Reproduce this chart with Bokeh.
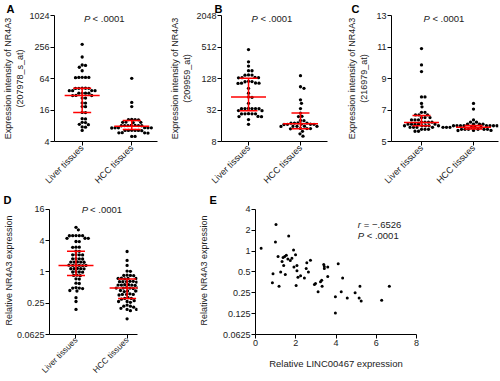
import math
from bokeh.plotting import figure
from bokeh.models import Range1d, FixedTicker, CustomJSTickFormatter, Label, AllLabels
from bokeh.layouts import row, column
from bokeh.embed import file_html
from bokeh.resources import INLINE

FONT = "Liberation Sans"
TXT = "#222222"

categories = ["Liver tissues", "HCC tissues"]

# Panel A (207978_s_at)
a_liver = [288, 165, 116, 114, 105, 90, 67, 67, 66.5, 67.5, 67, 41.6, 41.8, 41.4, 41.6, 41.7, 37.5, 37.4,
           37.6, 37.5, 33.6, 33.5, 33.7, 33.6, 30.3, 30.2, 30.4, 27, 27.1, 21.7, 21.8, 18.6, 18.5, 14.4,
           14.3, 10.8, 10.9, 9.3, 9.2, 8.4, 8.5, 7.6, 7.5, 6.5]
a_hcc = [64.5, 22.3, 18.6, 10.5, 10.5, 10.4, 10.6, 9.3, 9.3, 9.2, 9.4, 8.05, 8.0, 8.1, 8.05, 8.0, 8.1,
         8.05, 7.3, 7.3, 7.25, 7.35, 7.3, 7.3, 6.5, 6.5, 6.45, 6.55, 6.5, 6.5, 5.85, 5.85, 5.8, 5.9, 5.0, 5.0]
a_median = [30.3, 7.8]
a_q1 = [14.4, 6.8]
a_q3 = [41.6, 10.1]
a_yticks = [4, 16, 64, 256, 1024]

# Panel B (209959_at)
b_liver = [458, 267, 221, 180, 181, 149, 150, 148, 133, 134, 132, 133, 112, 111, 113, 104, 105, 103, 104,
           83, 67, 56, 57, 43, 34, 34.2, 33.8, 34.1, 33.9, 34, 31, 31.2, 27, 27.1, 26.9, 27, 27.2, 24,
           24.1, 23.9, 21, 17]
b_hcc = [145, 89, 83, 50, 43, 34, 28, 24, 24.2, 20, 20.2, 18, 18.1, 17.9, 18, 17, 17.1, 16.9, 17, 17.2,
         15.6, 15.7, 15.5, 15.6, 15.6, 14.1, 14.2, 14, 14.1, 12.5, 11.2, 10.1]
b_median = [57, 17.5]
b_q1 = [31, 14]
b_q3 = [129, 28]
b_yticks = [8, 32, 128, 512, 2048]

# Panel C (216979_at)
c_liver = [10.9, 9.86, 9.44, 7.83, 7.83, 7.42, 7.2, 6.85, 6.85, 6.69, 6.69, 6.69, 6.52, 6.52, 6.52,
           6.37, 6.37, 6.37, 6.23, 6.23, 6.23, 6.23, 6.1, 6.1, 6.1, 6.1, 6.1, 6.0, 6.0, 6.0, 6.0, 6.0,
           5.9, 5.9, 5.9, 5.9, 5.77, 5.77, 5.77, 5.65, 5.65]
c_hcc = [7.42, 7.06, 6.37, 6.23, 6.23, 6.1, 6.1, 6.1, 6.1, 6.0, 6.0, 6.0, 6.0, 6.0, 6.0, 6.0, 6.0, 5.9,
         5.9, 5.9, 5.9, 5.9, 5.9, 5.9, 5.9, 5.77, 5.77, 5.77, 5.77, 5.77, 5.77, 5.7, 5.7, 5.7]
c_median = [6.2, 5.9]
c_q1 = [6.0, 5.8]
c_q3 = [6.65, 6.02]
c_yticks = [5, 7, 9, 11, 13]

# Panel D (qPCR)
d_liver = [7.24, 6.5, 5.0, 5.01, 4.99, 5.0, 5.02, 4.46, 4.45, 4.47, 3.86, 3.87, 3.0, 3.01, 2.99, 2.5,
           2.51, 2.14, 2.15, 2.13, 2.14, 1.79, 1.8, 1.78, 1.79, 1.55, 1.56, 1.54, 1.55, 1.55, 1.34, 1.35,
           1.33, 1.34, 1.34, 1.35, 1.16, 1.17, 1.15, 1.16, 1.16, 1.0, 1.01, 0.99, 1.0, 0.86, 0.87, 0.85,
           0.73, 0.74, 0.6, 0.61, 0.49, 0.5, 0.48, 0.49, 0.43, 0.44, 0.32, 0.27, 0.19]
d_hcc = [2.48, 1.67, 1.34, 1.03, 1.04, 0.86, 0.87, 0.85, 0.86, 0.75, 0.76, 0.74, 0.75, 0.75, 0.65, 0.66,
         0.64, 0.65, 0.65, 0.66, 0.56, 0.57, 0.55, 0.56, 0.56, 0.57, 0.49, 0.5, 0.48, 0.49, 0.49, 0.5,
         0.43, 0.44, 0.42, 0.43, 0.43, 0.37, 0.38, 0.36, 0.37, 0.37, 0.31, 0.32, 0.31, 0.3, 0.27, 0.27,
         0.28, 0.26, 0.22, 0.22, 0.23, 0.21, 0.19, 0.19, 0.2, 0.18, 0.125]
d_median = [1.34, 0.49]
d_q1 = [0.86, 0.31]
d_q3 = [2.5, 0.73]
d_yticks = [0.0625, 0.25, 1, 4, 16]

# Panel E (correlation)
e_linc = [0.28, 1.02, 0.99, 1.65, 0.87, 0.84, 1.17, 1.12, 1.25, 1.32, 1.37, 1.45, 1.53, 1.40, 1.48, 1.61,
          1.73, 1.81, 1.89, 1.99, 1.91, 2.06, 2.06, 2.11, 2.02, 2.24, 2.43, 2.55, 2.63, 2.73, 2.52, 2.93,
          2.98, 3.11, 3.23, 3.29, 3.31, 3.39, 3.42, 3.42, 3.59, 3.59, 4.11, 4.33, 3.97, 3.97, 4.26, 4.56,
          4.95, 5.19, 5.15, 5.25, 6.27, 6.65]
e_nr4a3 = [1.10, 2.42, 1.35, 1.65, 0.47, 0.35, 0.31, 0.84, 0.50, 0.71, 0.81, 0.84, 0.87, 0.62, 0.46, 0.77,
           0.73, 0.79, 1.04, 0.89, 0.59, 0.62, 0.52, 0.42, 0.32, 0.44, 0.41, 0.68, 0.50, 0.74, 0.56, 0.33,
           0.34, 0.26, 0.36, 0.38, 0.31, 0.64, 0.60, 0.56, 0.59, 0.43, 0.66, 0.41, 0.22, 0.128, 0.26, 0.21,
           0.25, 0.31, 0.21, 0.19, 0.195, 0.31]
e_xticks = [0, 2, 4, 6, 8]
e_yticks = [0.0625, 0.125, 0.25, 0.5, 1, 2, 4]


class Panel:
    """fig_box: (left, top, right, bottom) of the figure in page px.
    axis_box: (left, top, right, bottom) of the axes' extent in page px.
    frame_top: page px where the plot frame starts (range extended above the top tick)."""

    def __init__(self, fig_box, axis_box, frame_top, xr, yr, ylog, xticks, yticks,
                 letter, letter_x, ylabel, ylabel_standoff, cat_font="9px", cat_standoff=1):
        fl, ft, fr, fb = fig_box
        l, t, r, b = axis_box
        self.l, self.t, self.r, self.b = l, t, r, b
        self.xr, self.yr, self.ylog = xr, yr, ylog
        ytop = self.Y(frame_top)
        p = figure(width=fr - fl, height=fb - ft, x_range=Range1d(*xr), y_range=Range1d(yr[0], ytop),
                   y_axis_type="log" if ylog else "linear", output_backend="svg",
                   toolbar_location=None, title=letter,
                   min_border_left=l - fl, min_border_right=fr - r,
                   min_border_top=frame_top - ft, min_border_bottom=fb - b,
                   background_fill_color="white", border_fill_color="white",
                   outline_line_color=None)
        p.title.align = "left"
        p.title.vertical_align = "middle"
        p.title.offset = letter_x - l - 4
        p.title.standoff = 0
        p.title.text_font = FONT
        p.title.text_font_size = "11px"
        p.title.text_font_style = "bold"
        p.title.text_color = "black"
        p.grid.visible = False
        p.xaxis.ticker = FixedTicker(ticks=xticks)
        p.yaxis.ticker = FixedTicker(ticks=yticks)
        if frame_top != t:
            if ylog:
                p.yaxis.bounds = (yr[0] / 1.001, yr[1] * 1.001)
            else:
                p.yaxis.bounds = (yr[0] - 1e-6, yr[1] + 1e-6)
        p.yaxis.formatter = CustomJSTickFormatter(code="return tick.toString()")
        if xticks == [1, 2]:
            p.xaxis.formatter = CustomJSTickFormatter(args=dict(names=categories),
                                                      code="return names[Math.round(tick) - 1]")
            p.xaxis.major_label_orientation = math.pi / 4
        else:
            p.xaxis.formatter = CustomJSTickFormatter(code="return tick.toString()")
        for ax in (p.xaxis[0], p.yaxis[0]):
            ax.major_label_policy = AllLabels()
            ax.axis_line_color = "black"
            ax.axis_line_width = 1
            ax.major_tick_line_color = "black"
            ax.major_tick_out = 4
            ax.major_tick_in = 0
            ax.minor_tick_line_color = None
            ax.major_label_text_font = FONT
            ax.major_label_text_font_size = "9px"
            ax.major_label_text_color = TXT
            ax.major_label_standoff = 1
            ax.axis_label_text_font = FONT
            ax.axis_label_text_font_size = "9px"
            ax.axis_label_text_font_style = "normal"
            ax.axis_label_text_color = TXT
        if xticks == [1, 2]:
            p.xaxis.major_label_text_font_size = cat_font
            p.xaxis.major_label_standoff = cat_standoff
        p.yaxis.axis_label = ylabel
        p.yaxis.axis_label_standoff = ylabel_standoff
        self.p = p
        self.pxu_x = (r - l) / (xr[1] - xr[0])

    def X(self, px):
        return self.xr[0] + (px - self.l) / (self.r - self.l) * (self.xr[1] - self.xr[0])

    def Y(self, py):
        f = (self.b - py) / (self.b - self.t)
        if self.ylog:
            a, c = math.log2(self.yr[0]), math.log2(self.yr[1])
            return 2 ** (a + f * (c - a))
        return self.yr[0] + f * (self.yr[1] - self.yr[0])

    def PY(self, v):
        if self.ylog:
            a, c = math.log2(self.yr[0]), math.log2(self.yr[1])
            f = (math.log2(v) - a) / (c - a)
        else:
            f = (v - self.yr[0]) / (self.yr[1] - self.yr[0])
        return self.b - f * (self.b - self.t)

    def label(self, px, py, text, size="9.5px", style="normal", align="left",
              baseline="middle", angle=0.0, color=TXT):
        self.p.add_layout(Label(x=self.X(px), y=self.Y(py), text=text, text_font=FONT,
                                text_font_size=size, text_font_style=style, text_align=align,
                                text_baseline=baseline, angle=angle, text_color=color))

    def swarm(self, values, center, d=3.5):
        order = sorted(range(len(values)), key=lambda i: -values[i])
        offs = [0.0] + [s * j * 0.5 for j in range(1, 120) for s in (1, -1)]
        placed = []
        xs = [0.0] * len(values)
        for i in order:
            py = self.PY(values[i])
            chosen = 0.0
            for o in offs:
                if all((o - ox) ** 2 + (py - oy) ** 2 >= d * d for ox, oy in placed):
                    chosen = o
                    break
            placed.append((chosen, py))
            xs[i] = center + chosen / self.pxu_x
        return xs

    def dots_plot(self, groups, med, q1, q3):
        for k, vals in enumerate(groups):
            xs = self.swarm(vals, k + 1)
            self.p.scatter(xs, vals, size=3.3, color="black", line_width=0)
        cx = [1, 2]
        self.p.segment(x0=cx, y0=q1, x1=cx, y1=q3, line_color="#ff0000", line_width=1.5)
        self.p.scatter(cx, med, marker="dash", size=35, line_color="#ff0000", line_width=1.5)
        self.p.scatter(cx, q1, marker="dash", size=18, line_color="#ff0000", line_width=1.5)
        self.p.scatter(cx, q3, marker="dash", size=18, line_color="#ff0000", line_width=1.5)

    def pval(self, px, py, letter="P", rest="< .0001", gap=8.9):
        self.label(px, py, letter, style="italic")
        self.label(px + gap, py, rest)


# ---------- Row 1 ----------
A = Panel((0, 0, 165, 191), (49, 15, 157, 142), 15, (0.442, 2.519), (4, 1024), True, [1, 2], a_yticks,
          "A", 5, "Expression intensity of NR4A3\n(207978_s_at)", 1)
A.dots_plot([a_liver, a_hcc], a_median, a_q1, a_q3)
A.pval(80, 18.5)

B = Panel((165, 0, 335, 191), (221, 15, 327, 142), 15, (0.48, 2.52), (8, 2048), True, [1, 2], b_yticks,
          "B", 218, "Expression intensity of NR4A3\n(209959_at)", 1)
B.dots_plot([b_liver, b_hcc], b_median, b_q1, b_q3)
B.pval(251, 18.5)

C = Panel((335, 0, 500, 191), (391, 15, 498, 142), 15, (0.423, 2.481), (5, 13), False, [1, 2], c_yticks,
          "C", 355, "Expression intensity of NR4A3\n(216979_at)", 4)
C.dots_plot([c_liver, c_hcc], c_median, c_q1, c_q3)
C.pval(423, 18.5)

# ---------- Row 2 ----------
D = Panel((0, 191, 195, 381), (44, 209, 137, 335), 206, (0.4815, 2.2037), (0.0625, 16), True, [1, 2],
          d_yticks, "D", 2, "Relative NR4A3 expression", 0, cat_font="8.4px", cat_standoff=0)
D.dots_plot([d_liver, d_hcc], d_median, d_q1, d_q3)
D.pval(78, 209.5)

E = Panel((195, 191, 500, 381), (254, 209, 416, 336), 206, (0, 8), (0.0625, 4), True, e_xticks, e_yticks,
          "E", 212, "Relative NR4A3 expression", 11)
E.p.scatter(e_linc, e_nr4a3, size=3, color="black", line_width=0)
E.p.xaxis.axis_label = "Relative LINC00467 expression"
E.p.xaxis.axis_label_standoff = 9
E.p.xaxis.axis_label_text_font_size = "9.5px"
E.pval(357, 224, letter="r", rest="= \u2212.6526", gap=6.0)
E.pval(357, 235)

layout = column(row(A.p, B.p, C.p), row(D.p, E.p))

open("out.html", "w").write(file_html(layout, INLINE))
